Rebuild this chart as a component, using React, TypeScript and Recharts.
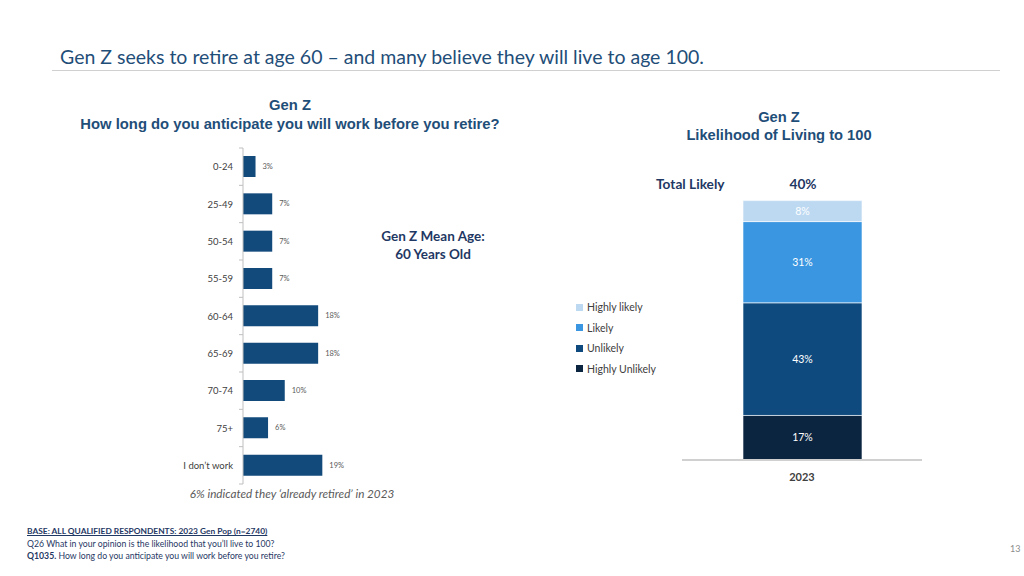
import React from "react";
import { BarChart, Bar, XAxis, YAxis, LabelList } from "recharts";

// left chart: how long do you anticipate you will work
const ageGroups = ["0-24", "25-49", "50-54", "55-59", "60-64", "65-69", "70-74", "75+", "I don\u2019t work"];
const workShare = [3, 7, 7, 7, 18, 18, 10, 6, 19];

// right chart: likelihood of living to 100
const years = ["2023"];
const highlyUnlikely = [17];
const unlikely = [43];
const likely = [31];
const highlyLikely = [8];
const totalLikely = ["40%"];

const NAVY = "#134A7C";
const CAL = "Lato, 'Open Sans', sans-serif";
const ARIAL = "'Liberation Sans', Arial, sans-serif";

const workData = ageGroups.map((g, i) => ({ group: g, value: workShare[i] }));
const lifeData = years.map((y, i) => ({
  year: y,
  highlyUnlikely: highlyUnlikely[i],
  unlikely: unlikely[i],
  likely: likely[i],
  highlyLikely: highlyLikely[i],
}));

// stack order bottom-up
const lifeSeries = [
  { key: "highlyUnlikely", name: "Highly Unlikely", color: "#0B2440" },
  { key: "unlikely", name: "Unlikely", color: "#0F4A7E" },
  { key: "likely", name: "Likely", color: "#3A96E0" },
  { key: "highlyLikely", name: "Highly likely", color: "#BDD9F2" },
];

const LEFT_H = 350;
const LEFT_M = { top: 7, right: 0, bottom: 7, left: 0 };
const band = (LEFT_H - LEFT_M.top - LEFT_M.bottom) / ageGroups.length;

const AgeTick = (props: any) => {
  const { x, y, payload, index } = props;
  const axisX = x + 8;
  return (
    <g>
      <text x={x - 2} y={y} dy={3.5} textAnchor="end" fontSize={9.5} fill="#404040" fontFamily={CAL}>
        {payload.value}
      </text>
      {index === 0 && <line x1={axisX - 4} x2={axisX} y1={y - band / 2} y2={y - band / 2} stroke="#BFBFBF" />}
      <line x1={axisX - 4} x2={axisX} y1={y + band / 2} y2={y + band / 2} stroke="#BFBFBF" />
    </g>
  );
};

const abs = (l: number, t: number, extra: any = {}) => ({ position: "absolute" as const, left: l, top: t, ...extra });

export default function App() {
  return (
    <div style={{ position: "absolute", left: 0, top: 0, width: 1024, height: 576, background: "#fff", overflow: "hidden" }}>
      <div style={abs(60, 45, { fontFamily: CAL, fontSize: 19.5, color: "#1F4E79", whiteSpace: "nowrap" })}>
        Gen Z seeks to retire at age 60 – and many believe they will live to age 100.
      </div>
      <div style={abs(52, 70, { width: 948, height: 1, background: "#D0D0D0" })} />

      <div style={abs(40, 96, { width: 500, textAlign: "center", fontFamily: ARIAL, fontWeight: 700, fontSize: 14.8, color: "#1F4E79", lineHeight: "19px" })}>
        Gen Z<br />How long do you anticipate you will work before you retire?
      </div>
      <div style={abs(629, 108, { width: 300, textAlign: "center", fontFamily: ARIAL, fontWeight: 700, fontSize: 14.7, color: "#1F4E79", lineHeight: "18px" })}>
        Gen Z<br />Likelihood of Living to 100
      </div>

      <div style={abs(0, 141)}>
        <BarChart width={410} height={LEFT_H} data={workData} layout="vertical" margin={LEFT_M} barSize={21}>
          <XAxis type="number" domain={[0, 40]} hide />
          <YAxis
            type="category"
            dataKey="group"
            width={243}
            axisLine={{ stroke: "#BFBFBF" }}
            tickLine={false}
            tick={<AgeTick />}
            interval={0}
          />
          <Bar dataKey="value" fill={NAVY} isAnimationActive={false}>
            <LabelList dataKey="value" position="right" offset={7} fontSize={7.5} fill="#595959" fontFamily={CAL} formatter={(v: any) => `${v}%`} />
          </Bar>
        </BarChart>
      </div>

      <div style={abs(333, 227, { width: 200, textAlign: "center", fontFamily: CAL, fontWeight: 700, fontSize: 13.5, color: "#1F3864", lineHeight: "18px" })}>
        Gen Z Mean Age:<br />60 Years Old
      </div>
      <div style={abs(142, 486, { width: 300, textAlign: "center", fontFamily: CAL, fontStyle: "italic", fontSize: 11.7, color: "#595959" })}>
        6% indicated they ‘already retired’ in 2023
      </div>

      <div style={abs(656, 175, { fontFamily: CAL, fontWeight: 700, fontSize: 13.7, color: "#1F3864" })}>Total Likely</div>
      <div style={abs(773, 175, { width: 60, textAlign: "center", fontFamily: CAL, fontWeight: 700, fontSize: 13.7, color: "#1F3864" })}>
        {totalLikely[0]}
      </div>

      <div style={abs(576, 297, { fontFamily: CAL })}>
        {[...lifeSeries].reverse().map((s) => (
          <div key={s.key} style={{ display: "flex", alignItems: "center", height: 20.5, fontSize: 10.5, color: "#404040" }}>
            <span style={{ width: 7, height: 7, background: s.color, marginRight: 4, display: "inline-block" }} />
            {s.name}
          </div>
        ))}
      </div>

      <div style={abs(560, 180)}>
        <BarChart width={400} height={310} data={lifeData} margin={{ top: 18, right: 38, bottom: 0, left: 122 }} barSize={119}>
          <XAxis
            dataKey="year"
            axisLine={{ stroke: "#D0D0D0", strokeWidth: 2 }}
            tickLine={false}
            tickMargin={7}
            tick={{ fontSize: 11, fontWeight: 700, fill: "#404040", fontFamily: CAL }}
          />
          <YAxis type="number" domain={[0, 100]} hide />
          {lifeSeries.map((s) => (
            <Bar key={s.key} dataKey={s.key} name={s.name} stackId="a" fill={s.color} stroke="#ffffff" strokeWidth={0.6} isAnimationActive={false}>
              <LabelList dataKey={s.key} position="center" fill="#fff" fontSize={10.5} fontFamily={CAL} formatter={(v: any) => `${v}%`} />
            </Bar>
          ))}
        </BarChart>
      </div>

      <div style={abs(27, 525, { fontFamily: CAL, fontSize: 8.7, color: "#1F3864", lineHeight: "12.5px" })}>
        <div style={{ fontWeight: 700, textDecoration: "underline", fontSize: 8.4 }}>BASE: ALL QUALIFIED RESPONDENTS: 2023 Gen Pop (n=2740)</div>
        <div>Q26 What in your opinion is the likelihood that you’ll live to 100?</div>
        <div><b>Q1035.</b> How long do you anticipate you will work before you retire?</div>
      </div>
      <div style={abs(1010, 543, { fontFamily: CAL, fontSize: 9, color: "#8C8C8C" })}>13</div>
    </div>
  );
}
